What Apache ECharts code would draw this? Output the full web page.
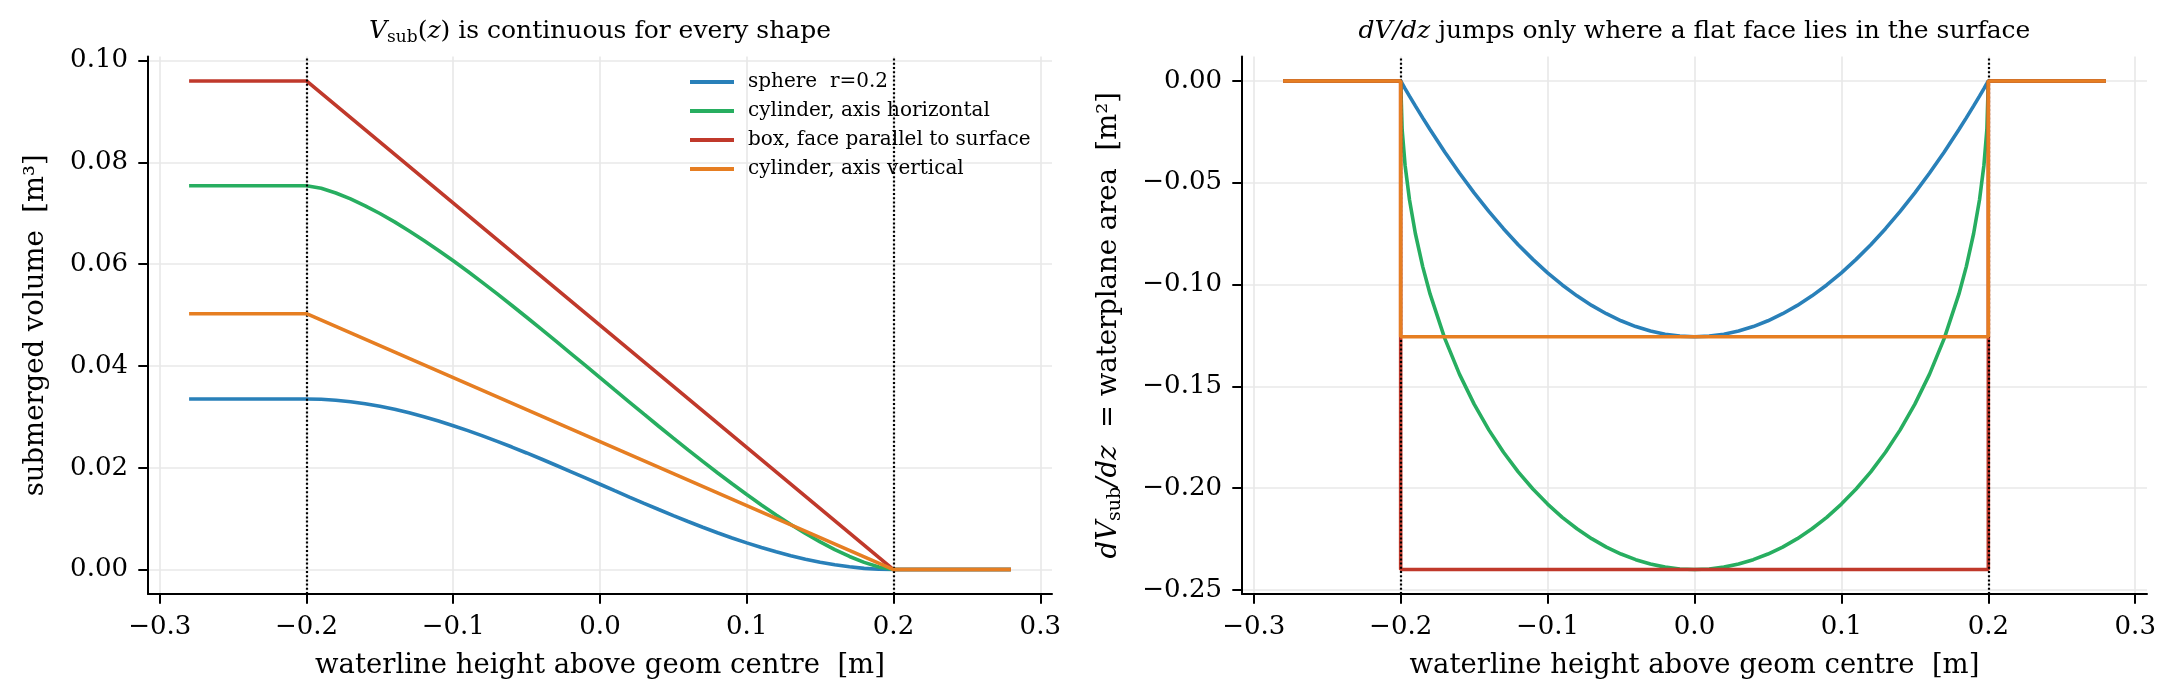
<!DOCTYPE html>
<html>
<head>
<meta charset="utf-8">
<title>submerged volume and waterplane area</title>
<script src="https://cdn.jsdelivr.net/npm/echarts@6/dist/echarts.min.js"></script>
<style>
html, body { margin: 0; padding: 0; background: #fff; }
#chart { width: 2178px; height: 699px; }
</style>
</head>
<body>
<div id="chart"></div>
<script>
// series names / colours
var names = ['sphere  r=0.2', 'cylinder, axis horizontal', 'box, face parallel to surface', 'cylinder, axis vertical'];
var colors = ['#2980b9', '#27ae60', '#c0392b', '#e67e22'];

// ---- left panel: submerged volume [m^3] ----
var zV = [-0.28, -0.26, -0.24, -0.22,
    -0.20, -0.19, -0.18, -0.17, -0.16, -0.15, -0.14, -0.13, -0.12, -0.11,
    -0.10, -0.09, -0.08, -0.07, -0.06, -0.05, -0.04, -0.03, -0.02, -0.01,
    0.00, 0.01, 0.02, 0.03, 0.04, 0.05, 0.06, 0.07, 0.08, 0.09,
    0.10, 0.11, 0.12, 0.13, 0.14, 0.15, 0.16, 0.17, 0.18, 0.19,
    0.20, 0.22, 0.24, 0.26, 0.28];
var vSphere = [0.03351, 0.03351, 0.03351, 0.03351,
    0.03351, 0.03345, 0.03327, 0.03297, 0.03257, 0.03207, 0.03148, 0.03079, 0.03003, 0.02918,
    0.02827, 0.02730, 0.02627, 0.02519, 0.02407, 0.02291, 0.02172, 0.02050, 0.01926, 0.01801,
    0.01676, 0.01550, 0.01425, 0.01301, 0.01180, 0.01060, 0.00944, 0.00832, 0.00724, 0.00621,
    0.00524, 0.00433, 0.00349, 0.00272, 0.00204, 0.00144, 0.00094, 0.00054, 0.00024, 0.00006,
    0, 0, 0, 0, 0];
var vCylH = [0.07540, 0.07540, 0.07540, 0.07540,
    0.07540, 0.07490, 0.07399, 0.07283, 0.07147, 0.06996, 0.06831, 0.06653, 0.06466, 0.06270,
    0.06066, 0.05855, 0.05637, 0.05415, 0.05188, 0.04957, 0.04723, 0.04487, 0.04249, 0.04010,
    0.03770, 0.03530, 0.03291, 0.03053, 0.02816, 0.02583, 0.02352, 0.02125, 0.01902, 0.01685,
    0.01474, 0.01270, 0.01074, 0.00887, 0.00709, 0.00544, 0.00392, 0.00257, 0.00141, 0.00050,
    0, 0, 0, 0, 0];
var zKink = [-0.28, -0.20, 0.20, 0.28];
var vBox = [0.0960, 0.0960, 0, 0];
var vCylV = [0.05027, 0.05027, 0, 0];

// ---- right panel: dV/dz [m^2] ----
var zA = [-0.28, -0.24, -0.20, -0.20,
    -0.199, -0.197, -0.194, -0.19, -0.185, -0.18,
    -0.17, -0.16, -0.15, -0.14, -0.13, -0.12, -0.11, -0.10, -0.09,
    -0.08, -0.07, -0.06, -0.05, -0.04, -0.03, -0.02, -0.01, 0.00,
    0.01, 0.02, 0.03, 0.04, 0.05, 0.06, 0.07, 0.08, 0.09,
    0.10, 0.11, 0.12, 0.13, 0.14, 0.15, 0.16, 0.17,
    0.18, 0.185, 0.19, 0.194, 0.197, 0.199,
    0.20, 0.20, 0.24, 0.28];
var aSphere = [0, 0, 0, 0,
    -0.00125, -0.00374, -0.00743, -0.01225, -0.01814, -0.02388,
    -0.03487, -0.04524, -0.05498, -0.06409, -0.07257, -0.08042, -0.08765, -0.09425, -0.10022,
    -0.10556, -0.11027, -0.11435, -0.11781, -0.12064, -0.12284, -0.12441, -0.12535, -0.12566,
    -0.12535, -0.12441, -0.12284, -0.12064, -0.11781, -0.11435, -0.11027, -0.10556, -0.10022,
    -0.09425, -0.08765, -0.08042, -0.07257, -0.06409, -0.05498, -0.04524, -0.03487,
    -0.02388, -0.01814, -0.01225, -0.00743, -0.00374, -0.00125,
    0, 0, 0, 0];
var aCylH = [0, 0, 0, 0,
    -0.02397, -0.04141, -0.05835, -0.07494, -0.09119, -0.10461,
    -0.12643, -0.14400, -0.15875, -0.17139, -0.18238, -0.19200, -0.20044, -0.20785, -0.21433,
    -0.21996, -0.22482, -0.22895, -0.23238, -0.23515, -0.23728, -0.23880, -0.23970, -0.24000,
    -0.23970, -0.23880, -0.23728, -0.23515, -0.23238, -0.22895, -0.22482, -0.21996, -0.21433,
    -0.20785, -0.20044, -0.19200, -0.18238, -0.17139, -0.15875, -0.14400, -0.12643,
    -0.10461, -0.09119, -0.07494, -0.05835, -0.04141, -0.02397,
    0, 0, 0, 0];
var zStep = [-0.28, -0.20, -0.20, 0.20, 0.20, 0.28];
var aBox = [0, 0, -0.24, -0.24, 0, 0];
var aCylV = [0, 0, -0.12566, -0.12566, 0, 0];

// ticks
var xTicks = [-0.3, -0.2, -0.1, 0, 0.1, 0.2, 0.3];
var yTicksV = [0, 0.02, 0.04, 0.06, 0.08, 0.10];
var yTicksA = [-0.25, -0.20, -0.15, -0.10, -0.05, 0];
var faces = [-0.2, 0.2];

var FONT = "'DejaVu Serif', serif";

function pairs(xs, ys) {
    return xs.map(function (x, i) { return [x, ys[i]]; });
}

function fmt(d) {
    return function (v) { return Number(v).toFixed(d).replace('-', '\u2212'); };
}

var richMath = {
    it: { fontFamily: FONT, fontStyle: 'italic', fontSize: 27.5, lineHeight: 32, color: '#000' },
    sub: { fontFamily: FONT, fontSize: 19, lineHeight: 19, verticalAlign: 'bottom', color: '#000' }
};

function xAxisFor(gi) {
    return {
        type: 'value', gridIndex: gi, min: -0.308, max: 0.308,
        name: 'waterline height above geom centre  [m]',
        nameLocation: 'middle', nameGap: 58,
        nameTextStyle: { fontFamily: FONT, fontSize: 27.5, color: '#000' },
        axisLine: { show: true, onZero: false, lineStyle: { color: '#000', width: 2 } },
        axisTick: { show: true, length: 9.7, customValues: xTicks, lineStyle: { color: '#000', width: 2 } },
        axisLabel: { fontFamily: FONT, fontSize: 26, color: '#000', margin: 20, customValues: xTicks, formatter: fmt(1) },
        splitLine: { show: true, lineStyle: { color: '#e8e8e8', width: 1.6 } }
    };
}

function yAxisFor(gi, min, max, ticks, name, gap) {
    return {
        type: 'value', gridIndex: gi, min: min, max: max,
        name: name, nameLocation: 'middle', nameGap: gap,
        nameTextStyle: { fontFamily: FONT, fontSize: 27.5, lineHeight: 32, color: '#000', rich: richMath },
        axisLine: { show: true, onZero: false, lineStyle: { color: '#000', width: 2 } },
        axisTick: { show: true, length: 9.7, customValues: ticks, lineStyle: { color: '#000', width: 2 } },
        axisLabel: { fontFamily: FONT, fontSize: 26, color: '#000', margin: 20, customValues: ticks, formatter: fmt(2) },
        splitLine: { show: true, lineStyle: { color: '#e8e8e8', width: 1.6 } }
    };
}

function lineSeries(i, gi, data) {
    return {
        name: names[i], type: 'line', xAxisIndex: gi, yAxisIndex: gi,
        data: data, showSymbol: false, symbol: 'none', z: 2 + i,
        lineStyle: { color: colors[i], width: 3.6 }, itemStyle: { color: colors[i] },
        emphasis: { disabled: true }, animation: false
    };
}

function faceLines(gi) {
    return {
        type: 'line', xAxisIndex: gi, yAxisIndex: gi, data: [], z: 10, silent: true,
        markLine: {
            symbol: ['none', 'none'], silent: true, animation: false,
            label: { show: false },
            lineStyle: { color: '#000', width: 2.2, type: [2, 2.2] },
            emphasis: { disabled: true },
            data: faces.map(function (f) { return { xAxis: f }; })
        }
    };
}

function titleText(x, text) {
    return {
        type: 'text', x: x, y: 31, silent: true,
        style: {
            text: text, align: 'center', verticalAlign: 'middle',
            textAlign: 'center', textVerticalAlign: 'middle',
            fontFamily: FONT, fontSize: 25, lineHeight: 30, fill: '#000',
            rich: {
                it: { fontFamily: FONT, fontStyle: 'italic', fontSize: 25, lineHeight: 30, fill: '#000' },
                sub: { fontFamily: FONT, fontSize: 17, lineHeight: 17, verticalAlign: 'bottom', fill: '#000' }
            }
        }
    };
}

var myChart = echarts.init(document.getElementById('chart'), null, { renderer: 'canvas' });

var option = {
    backgroundColor: '#fff',
    animation: false,
    grid: [
        { left: 148, top: 56.5, width: 904, height: 537.5 },
        { left: 1242, top: 56.5, width: 905, height: 537.5 }
    ],
    xAxis: [xAxisFor(0), xAxisFor(1)],
    yAxis: [
        yAxisFor(0, -0.0048, 0.1008, yTicksV, 'submerged volume  [m\u00b3]', 96),
        yAxisFor(1, -0.252, 0.012, yTicksA, '{it|dV}{sub|sub}{it|/dz}  = waterplane area  [m\u00b2]', 117)
    ],
    legend: {
        left: 690, top: 72, orient: 'vertical', padding: 0,
        icon: 'rect', itemWidth: 44, itemHeight: 4, itemGap: 9, selectedMode: false,
        data: names,
        textStyle: { fontFamily: FONT, fontSize: 20, lineHeight: 20, color: '#000', padding: [0, 0, 0, 9] }
    },
    graphic: [
        titleText(600, '{it|V}{sub|sub}({it|z}) is continuous for every shape'),
        titleText(1694.5, '{it|dV/dz} jumps only where a flat face lies in the surface')
    ],
    series: [
        lineSeries(0, 0, pairs(zV, vSphere)),
        lineSeries(1, 0, pairs(zV, vCylH)),
        lineSeries(2, 0, pairs(zKink, vBox)),
        lineSeries(3, 0, pairs(zKink, vCylV)),
        faceLines(0),
        lineSeries(0, 1, pairs(zA, aSphere)),
        lineSeries(1, 1, pairs(zA, aCylH)),
        lineSeries(2, 1, pairs(zStep, aBox)),
        lineSeries(3, 1, pairs(zStep, aCylV)),
        faceLines(1)
    ]
};

myChart.setOption(option);
window.addEventListener('resize', function () {
    myChart.resize();
});
</script>
</body>
</html>
